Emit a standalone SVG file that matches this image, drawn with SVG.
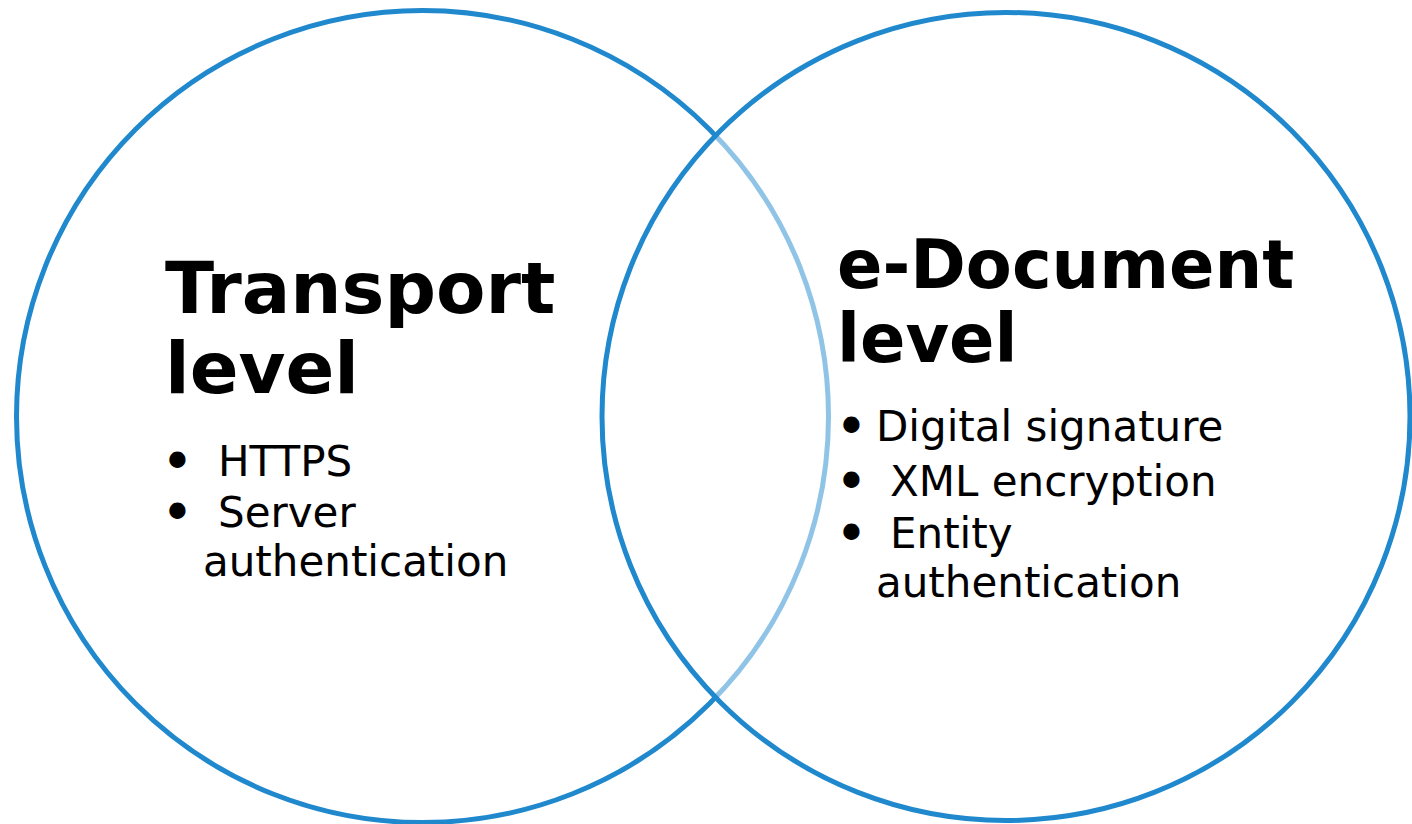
<svg xmlns="http://www.w3.org/2000/svg" width="1412" height="824" viewBox="0 0 1412 824">
<style>
.circ{stroke:#2088cd;stroke-width:5}
.title{font-family:"DejaVu Sans",Verdana,sans-serif;font-weight:bold;fill:#000}
.body{font-family:"DejaVu Sans",Verdana,sans-serif;font-size:42px;fill:#000}
.bul{stroke:#000;stroke-width:4;stroke-linejoin:round}
</style>
<rect width="1412" height="824" fill="#fff"/>
<g id="transport">
<circle class="circ" cx="422.5" cy="416.5" r="406" fill="#fff"/>
</g>
<g id="edocument">
<circle class="circ" cx="1006" cy="416.5" r="404" fill="#fff" fill-opacity="0.5"/>
</g>
<g id="transport-text">
<text class="title" font-size="72" x="165" y="313">Transport</text>
<text class="title" font-size="72" x="165" y="393">level</text>
<text class="body" y="476"><tspan class="bul" x="165">•</tspan><tspan x="218">HTTPS</tspan></text>
<text class="body" y="527"><tspan class="bul" x="165">•</tspan><tspan x="218">Server</tspan></text>
<text class="body" x="203" y="576">authentication</text>
</g>
<g id="edocument-text">
<text class="title" font-size="67" x="837" y="288">e-Document</text>
<text class="title" font-size="67" x="837" y="362">level</text>
<text class="body" y="441"><tspan class="bul" x="839">•</tspan><tspan x="876">Digital signature</tspan></text>
<text class="body" y="496"><tspan class="bul" x="839">•</tspan><tspan x="890">XML encryption</tspan></text>
<text class="body" y="548"><tspan class="bul" x="839">•</tspan><tspan x="890">Entity</tspan></text>
<text class="body" x="876" y="597">authentication</text>
</g>
<g id="connectors"></g>
</svg>
